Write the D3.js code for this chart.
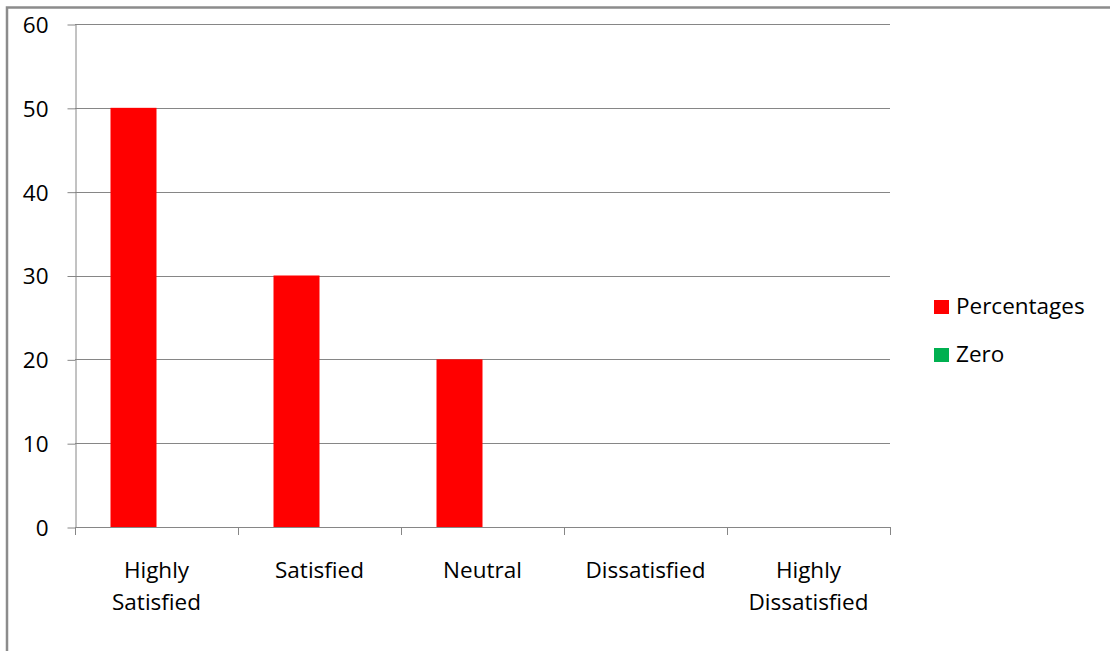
<!DOCTYPE html>
<html>
<head>
<meta charset="utf-8">
<script src="https://cdn.jsdelivr.net/npm/d3@7/dist/d3.min.js"></script>
<style>
  html, body { margin: 0; padding: 0; background: #fff; }
  svg text { font-family: "Open Sans", Lato, sans-serif; fill: #000; }
</style>
</head>
<body>
<svg id="chart" width="1110" height="651"></svg>
<script>
// Survey response categories and values
const categories = ["Highly Satisfied", "Satisfied", "Neutral", "Dissatisfied", "Highly Dissatisfied"];
const percentages = [50, 30, 20, 0, 0];
const zero = [0, 0, 0, 0, 0];
const seriesNames = ["Percentages", "Zero"];
const seriesColors = ["#FF0000", "#00B050"];
const yTicks = [0, 10, 20, 30, 40, 50, 60];

const svg = d3.select("#chart");
const gridColor = "#868686";
const fontSize = 22.5;

// Outer chart frame
svg.append("rect")
  .attr("x", 7).attr("y", 7.5)
  .attr("width", 1120).attr("height", 660)
  .attr("fill", "none").attr("stroke", "#8c8c8c").attr("stroke-width", 2.5);

const plot = { left: 75, right: 890, top: 24, bottom: 527 };

const x = d3.scaleBand().domain(categories).range([plot.left, plot.right]);
const y = d3.scaleLinear().domain([0, 60]).range([plot.bottom, plot.top]);

// Horizontal gridlines
svg.append("g").selectAll("line").data(yTicks.filter(d => d > 0)).join("line")
  .attr("x1", plot.left).attr("x2", plot.right)
  .attr("y1", d => Math.round(y(d)) + 0.5).attr("y2", d => Math.round(y(d)) + 0.5)
  .attr("stroke", gridColor).attr("stroke-width", 1);

// Clustered bars: two series slots centred in each category with a gap around them
const gap = x.bandwidth() * 71 / 163;
const inner = d3.scaleBand().domain(seriesNames)
  .range([gap / 2, x.bandwidth() - gap / 2]);
const seriesData = [percentages, zero];
seriesNames.forEach((name, si) => {
  svg.append("g").selectAll("rect").data(categories).join("rect")
    .attr("x", d => x(d) + inner(name))
    .attr("width", inner.bandwidth())
    .attr("y", (d, i) => y(seriesData[si][i]))
    .attr("height", (d, i) => y(0) - y(seriesData[si][i]))
    .attr("fill", seriesColors[si]);
});

// Y axis
const yAxis = svg.append("g")
  .attr("transform", `translate(${plot.left + 0.5},0.5)`)
  .call(d3.axisLeft(y).tickValues(yTicks).tickSize(8).tickPadding(19).tickSizeOuter(0));
yAxis.select(".domain").attr("stroke", gridColor);
yAxis.selectAll(".tick line").attr("stroke", gridColor);
yAxis.selectAll(".tick text").attr("font-size", fontSize).attr("dy", "0.35em");

// X axis with ticks at band boundaries
const xg = svg.append("g");
xg.append("line")
  .attr("x1", plot.left).attr("x2", plot.right)
  .attr("y1", plot.bottom + 0.5).attr("y2", plot.bottom + 0.5)
  .attr("stroke", gridColor);
const bounds = categories.map(c => x(c)).concat([plot.right]);
xg.selectAll("line.tk").data(bounds).join("line").attr("class", "tk")
  .attr("x1", d => Math.round(d) + 0.5).attr("x2", d => Math.round(d) + 0.5)
  .attr("y1", plot.bottom).attr("y2", plot.bottom + 8)
  .attr("stroke", gridColor);

// Category labels (wrapped onto two lines where needed)
const labelLines = {
  "Highly Satisfied": ["Highly", "Satisfied"],
  "Satisfied": ["Satisfied"],
  "Neutral": ["Neutral"],
  "Dissatisfied": ["Dissatisfied"],
  "Highly Dissatisfied": ["Highly", "Dissatisfied"]
};
categories.forEach(c => {
  const t = svg.append("text")
    .attr("x", x(c) + x.bandwidth() / 2)
    .attr("y", 578)
    .attr("text-anchor", "middle")
    .attr("font-size", fontSize);
  labelLines[c].forEach((ln, i) => {
    t.append("tspan").attr("x", x(c) + x.bandwidth() / 2).attr("dy", i === 0 ? 0 : 32).text(ln);
  });
});

// Legend
const legend = svg.append("g").attr("transform", "translate(934,300)");
seriesNames.forEach((name, i) => {
  const g = legend.append("g").attr("transform", `translate(0,${i * 48})`);
  g.append("rect").attr("width", 15).attr("height", 14).attr("fill", seriesColors[i]);
  g.append("text").attr("x", 22).attr("y", 14).attr("font-size", fontSize).text(name);
});
</script>
</body>
</html>
